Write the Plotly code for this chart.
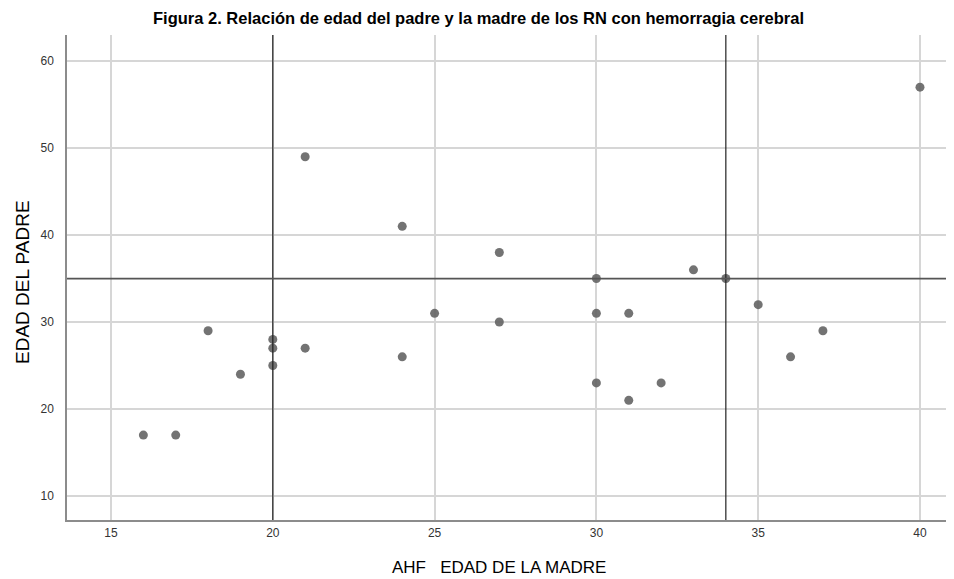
import plotly.graph_objects as go

edad_madre = [16, 17, 18, 19, 20, 20, 20, 21, 21, 24, 24, 25, 27, 27, 30, 30, 30, 31, 31, 32, 33, 34, 35, 36, 37, 40]
edad_padre = [17, 17, 29, 24, 28, 27, 25, 49, 27, 41, 26, 31, 38, 30, 35, 31, 23, 31, 21, 23, 36, 35, 32, 26, 29, 57]
ref_x = [20, 34]
ref_y = [35]
x_ticks = [15, 20, 25, 30, 35, 40]
y_ticks = [10, 20, 30, 40, 50, 60]

FONT = "Liberation Sans, Arial, sans-serif"
OFF = 8  # default body margin of the page
W, H = 954 - OFF, 579 - OFF
L, R, T, B = 67 - OFF, 1, 35 - OFF, 59

fig = go.Figure()
fig.add_trace(go.Scatter(
    x=edad_madre, y=edad_padre, mode="markers",
    marker=dict(size=9, color="rgba(100,100,100,0.9)", line=dict(width=0)),
    showlegend=False, hoverinfo="x+y"))

for xv in ref_x:
    fig.add_shape(type="line", xref="x", yref="paper", x0=xv, x1=xv, y0=0, y1=1,
                  line=dict(color="#222222", width=1.2), layer="above")
for yv in ref_y:
    fig.add_shape(type="line", xref="paper", yref="y", x0=0, x1=1, y0=yv, y1=yv,
                  line=dict(color="#555555", width=1.8), layer="above")

ph = H - T - B
pw = W - L - R

def px(xa):
    return (xa - OFF - L) / pw

def py(ya):
    return 1 - (ya - OFF - T) / ph

fig.add_annotation(text="<b>Figura 2. Relación de edad del padre y la madre de los RN con hemorragia cerebral</b>",
                   xref="paper", yref="paper", x=px(478), y=py(18),
                   xanchor="center", yanchor="middle", showarrow=False,
                   font=dict(family=FONT, size=16.5, color="#000000"))
fig.add_annotation(text="AHF   EDAD DE LA MADRE",
                   xref="paper", yref="paper", x=px(499), y=py(567),
                   xanchor="center", yanchor="middle", showarrow=False,
                   font=dict(family=FONT, size=17, color="#000000"))
fig.add_annotation(text="EDAD DEL PADRE", textangle=-90,
                   xref="paper", yref="paper", x=px(22), y=py(282),
                   xanchor="center", yanchor="middle", showarrow=False,
                   font=dict(family=FONT, size=19, color="#000000"))

fig.update_layout(
    width=W, height=H,
    margin=dict(l=L, r=R, t=T, b=B),
    paper_bgcolor="white", plot_bgcolor="white",
    xaxis=dict(range=[13.64, 41.02], tickvals=x_ticks, ticktext=[str(v) for v in x_ticks],
               showgrid=True, gridcolor="#d6d6d6", gridwidth=1.5, automargin=False,
               showline=True, linecolor="#8c8c8c", linewidth=1.5, zeroline=False,
               ticks="outside", ticklen=1, tickcolor="rgba(0,0,0,0)",
               tickfont=dict(family=FONT, size=12, color="#333333")),
    yaxis=dict(range=[7.24, 63.0], tickvals=y_ticks, ticktext=[str(v) for v in y_ticks],
               showgrid=True, gridcolor="#d6d6d6", gridwidth=1.5, automargin=False,
               showline=True, linecolor="#8c8c8c", linewidth=1.5, zeroline=False,
               ticks="outside", ticklen=9, tickcolor="rgba(0,0,0,0)",
               tickfont=dict(family=FONT, size=12, color="#333333")),
)

fig.write_html("out.html")
